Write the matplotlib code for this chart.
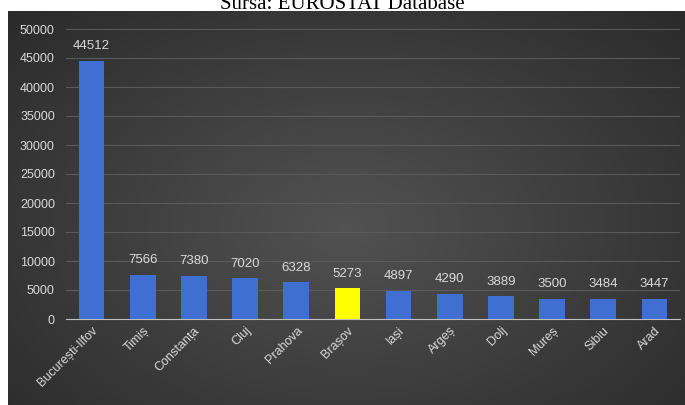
import numpy as np
import matplotlib
matplotlib.use("Agg")
from matplotlib import pyplot as plt

# data
regiuni = ["București-Ilfov", "Timiș", "Constanța", "Cluj", "Prahova", "Brașov",
           "Iași", "Argeș", "Dolj", "Mureș", "Sibiu", "Arad"]
valori = [44512, 7566, 7380, 7020, 6328, 5273, 4897, 4290, 3889, 3500, 3484, 3447]
y_ticks = [0, 5000, 10000, 15000, 20000, 25000, 30000, 35000, 40000, 45000, 50000]
evidentiat = "Brașov"

plt.rcParams['font.family'] = ['Liberation Sans', 'DejaVu Sans']
txt = '#d9d9d9'

fig = plt.figure(figsize=(6.85, 4.05), dpi=100)
fig.patch.set_facecolor('white')

# dark panel with radial gradient
W, H = 685, 405
bg = fig.add_axes([8 / W, 0, 1 - 8 / W, 1 - 11 / H])
yy, xx = np.mgrid[0:1:200j, 0:1:300j]
r = np.sqrt(((xx - 0.5) / 0.7) ** 2 + ((yy - 0.55) / 0.8) ** 2)
shade = 0.32 - 0.155 * np.clip(r, 0, 1)
bg.imshow(np.dstack([shade, shade, shade]), aspect='auto', extent=[0, 1, 0, 1],
          interpolation='bilinear')
bg.set_axis_off()

# titlul e taiat sus ca in original
fig.text(0.5, 1 - 9 / H, "Sursa: EUROSTAT Database", ha='center', va='baseline',
         family='Liberation Serif', fontsize=15, color='black', zorder=0)

ax = fig.add_axes([66 / W, (H - 319) / H, 614 / W, 290 / H])
ax.patch.set_alpha(0)
x = np.arange(len(regiuni))
culori = ['#ffff00' if r == evidentiat else '#3f6fd1' for r in regiuni]
bars = ax.bar(x, valori, width=0.5, color=culori, zorder=3)
for xi, v in zip(x, valori):
    ax.text(xi, v + 1500, str(v), ha='center', va='bottom', color=txt, fontsize=9.5)

ax.set_ylim(0, 50000)
ax.set_xlim(-0.5, len(regiuni) - 0.5)
ax.set_yticks(y_ticks)
ax.tick_params(axis='y', colors=txt, labelsize=9, length=0, pad=8)
ax.tick_params(axis='x', colors=txt, labelsize=9, length=0, pad=4)
ax.set_xticks(x)
ax.set_xticklabels(regiuni, rotation=45, ha='right', rotation_mode='anchor')
ax.grid(axis='y', color='#5a5a5a', linewidth=0.8, zorder=0)
for s in ['top', 'right', 'left']:
    ax.spines[s].set_visible(False)
ax.spines['bottom'].set_color('#bfbfbf')

fig.savefig('out.png', dpi=100)
